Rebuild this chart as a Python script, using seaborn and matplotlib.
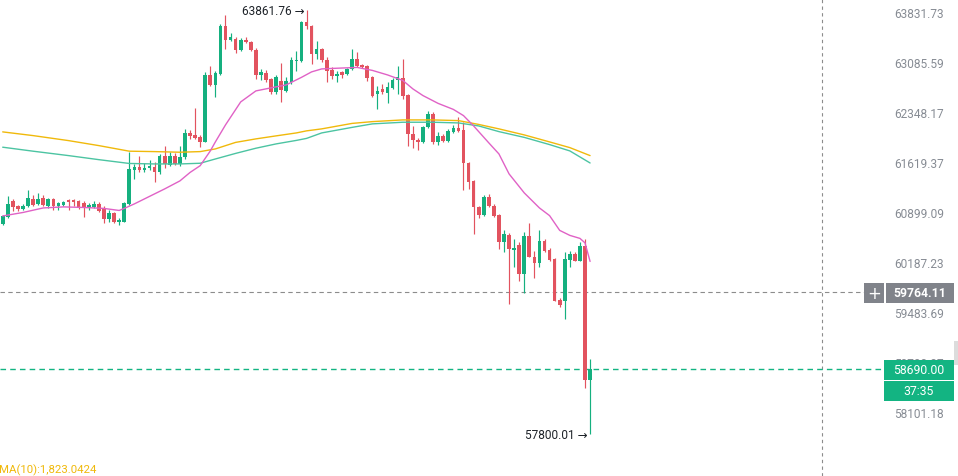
import numpy as np
import pandas as pd
import matplotlib
matplotlib.use("Agg")
import matplotlib.pyplot as plt
import seaborn as sns
from matplotlib.patches import Rectangle
from matplotlib.ticker import FixedLocator, NullLocator

# ---------------- data ----------------
opens = [60732, 60832, 61062, 60990, 60947, 60990, 61091, 61019, 61105, 60990,
         61091, 60990, 61004, 61076, 61076, 61062, 61033, 60961, 60976, 61019,
         60961, 60804, 60889, 60761, 60761, 61019, 61509, 61552, 61509, 61537,
         61552, 61480, 61711, 61581, 61711, 61595, 61697, 62046, 62017, 61988,
         61915, 62898, 62751, 62913, 63627, 63418, 63433, 63269, 63418, 63389,
         63269, 62898, 62928, 62839, 62648, 62810, 62662, 62795, 63105, 63105,
         63687, 63627, 63209, 63284, 63120, 62972, 62884, 62943, 62913, 62987,
         63135, 63046, 63031, 62869, 62618, 62692, 62633, 62707, 62825, 62854,
         62603, 62032, 61944, 61915, 62134, 62323, 61915, 62003, 61930, 62061,
         62119, 62090, 61609, 61350, 60976, 60861, 61120, 60990, 60861, 60476,
         60576, 60362, 60434, 60023, 60562, 60263, 60177, 60490, 60362, 60234,
         59657, 59643, 60220, 60305, 60206, 60419, 58545]
highs = [60861, 61134, 61091, 61004, 61019, 61220, 61148, 61177, 61148, 61105,
         61105, 61048, 61066, 61091, 61091, 61076, 61062, 61033, 61066, 61048,
         60990, 60932, 60903, 60818, 61048, 61770, 61595, 61711, 61609, 61653,
         61624, 61740, 61857, 61770, 61755, 61857, 62105, 62090, 62412, 62017,
         62943, 63031, 62957, 63657, 63791, 63523, 63463, 63448, 63463, 63403,
         63299, 62987, 62972, 62854, 62898, 63075, 62869, 63165, 63254, 63702,
         63861.76, 63642, 63403, 63299, 63165, 63016, 62957, 62957, 63002, 63284,
         63239, 63061, 63046, 62884, 62736, 62766, 62795, 62854, 63031, 63135,
         62618, 62148, 61974, 62148, 62367, 62353, 62061, 62032, 62105, 62163,
         62280, 62207, 61624, 61360, 60990, 61148, 61163, 61019, 60875, 60647,
         60604, 60519, 60476, 60619, 60747, 60348, 60647, 60519, 60391, 60248,
         59685, 60334, 60348, 60334, 60476, 60519, 58834]
lows = [60718, 60818, 60918, 60922, 60932, 60976, 60990, 61004, 60990, 60961,
        60932, 60932, 60990, 60932, 60990, 60947, 60832, 60932, 60961, 60903,
        60747, 60761, 60747, 60718, 60754, 61010, 61379, 61480, 61484, 61509,
        61336, 61451, 61537, 61566, 61581, 61566, 61667, 61959, 61959, 61842,
        61908, 62736, 62574, 62898, 63284, 63403, 63224, 63254, 63374, 63254,
        62839, 62825, 62795, 62618, 62618, 62500, 62648, 62766, 62957, 63090,
        63583, 63061, 63135, 63090, 62795, 62839, 62795, 62854, 62898, 62972,
        63016, 63002, 62810, 62574, 62397, 62618, 62485, 62692, 62618, 62544,
        61857, 61828, 61799, 61901, 62119, 61886, 61872, 61915, 61915, 62046,
        62061, 61220, 61235, 60590, 60818, 60846, 60976, 60832, 60377, 60334,
        59600, 60121, 59924, 59755, 60255, 59966, 60121, 60334, 60206, 59635,
        59558, 59391, 60121, 60200, 60200, 58435, 57800.01]
closes = [60846, 61019, 60976, 60947, 60994, 61105, 61004, 61091, 61004, 61091,
          60990, 61033, 61048, 61048, 61048, 60961, 60961, 61004, 61019, 60918,
          60804, 60889, 60761, 60789, 61033, 61523, 61552, 61509, 61537, 61566,
          61480, 61711, 61595, 61711, 61595, 61697, 62046, 62003, 61974, 61915,
          62898, 62751, 62928, 63627, 63418, 63463, 63269, 63418, 63389, 63269,
          62898, 62943, 62825, 62648, 62869, 62677, 62810, 63120, 63120, 63687,
          63627, 63209, 63284, 63120, 62957, 62884, 62913, 62898, 62987, 63135,
          63031, 63016, 62854, 62589, 62662, 62648, 62721, 62825, 62869, 62589,
          62032, 61944, 61915, 62134, 62323, 61915, 62003, 61930, 62076, 62119,
          62076, 61609, 61336, 60976, 60861, 61120, 60990, 60846, 60476, 60590,
          60377, 60391, 60023, 60562, 60263, 60177, 60490, 60348, 60220, 59643,
          59586, 60234, 60305, 60210, 60419, 58545, 58690.00]

# moving-average lines (candle index -> value)
ma_fast_idx = [0, 4, 8, 12, 16, 20, 23, 24, 26, 28, 30, 32, 35, 37, 39, 41, 42, 44,
               47, 50, 53, 56, 59, 61, 63, 66, 70, 73, 76, 79, 81, 83, 86, 89, 91,
               93, 96, 98, 100, 103, 106, 108, 110, 112, 114, 115, 116]
ma_fast_val = [60846, 60896, 60961, 60976, 60968, 60954, 60925, 60954, 61019, 61091,
               61163, 61235, 61350, 61472, 61570, 61784, 61915, 62163, 62500, 62662,
               62707, 62751, 62862, 62943, 62987, 62997, 63009, 62965, 62898, 62817,
               62692, 62593, 62478, 62390, 62299, 62148, 61901, 61740, 61451, 61177,
               60961, 60851, 60640, 60569, 60526, 60462, 60199]
ma_slow_idx = [0, 6, 13, 19, 25, 30, 35, 39, 42, 46, 50, 54, 58, 60, 63, 69, 73, 79,
               85, 90, 94, 98, 103, 108, 112, 116]
ma_orange_val = [62061, 62007, 61934, 61861, 61780, 61774, 61765, 61774, 61813, 61908,
                 61959, 62003, 62046, 62076, 62105, 62185, 62211, 62236, 62236, 62226,
                 62170, 62105, 62017, 61915, 61832, 61716]
ma_teal_val = [61838, 61780, 61716, 61657, 61602, 61595, 61595, 61605, 61667, 61748,
               61823, 61886, 61937, 61966, 62046, 62127, 62178, 62202, 62202, 62192,
               62148, 62065, 61981, 61876, 61784, 61609]

tick_values = [63831.73, 63085.59, 62348.17, 61619.37, 60899.09, 60187.23,
               59483.69, 58788.37, 58101.18]
tick_labels = ["63831.73", "63085.59", "62348.17", "61619.37", "60899.09",
               "60187.23", "59483.69", "58788.37", "58101.18"]
crosshair_price = 59764.11
crosshair_index = 161.8
last_price = 58690.00
countdown = "37:35"
high_label = "63861.76 \u2192"
low_label = "57800.01 \u2192"
vol_text = "MA(10):1,823.0424"

# ---------------- style ----------------
sns.set_style("white")
plt.rcParams["font.family"] = ["Roboto", "DejaVu Sans"]

GREEN = "#15b07f"
RED = "#e2535f"
PINK = "#e062c6"
ORANGE = "#f0b90b"
TEAL = "#4cc4a2"
GRAY_TXT = "#878c94"

W, H = 958, 477
fig = plt.figure(figsize=(W / 100, H / 100), dpi=100)
ax = fig.add_axes([0, 0, 862 / W, 1])

df = pd.DataFrame({"idx": np.arange(len(opens)), "open": opens, "high": highs,
                   "low": lows, "close": closes})
up = df["close"] >= df["open"]
cols = np.where(up, GREEN, RED)
body_lo = df[["open", "close"]].min(axis=1)
body_h = (df["close"] - df["open"]).abs().clip(lower=12)

ax.set_yscale("log")
ax.vlines(df["idx"], df["low"], df["high"], colors=cols, lw=0.85, zorder=3)
ax.bar(df["idx"], body_h, bottom=body_lo, width=0.72, color=cols,
       linewidth=0, zorder=4)

sns.lineplot(x=ma_slow_idx, y=ma_orange_val, ax=ax, color=ORANGE, lw=1.0, zorder=5)
sns.lineplot(x=ma_slow_idx, y=ma_teal_val, ax=ax, color=TEAL, lw=1.0, zorder=5)
sns.lineplot(x=ma_fast_idx, y=ma_fast_val, ax=ax, color=PINK, lw=1.0, zorder=6)

ax.set_xlim(-0.533, 169.7)
ax.set_ylim(57237, 64031)

# crosshair and last price lines
ax.axvline(crosshair_index, color="#8c8c8c", lw=0.8, ls=(0, (3, 3)), zorder=2)
ax.axhline(crosshair_price, xmin=0, xmax=864 / 862, color="#8c8c8c", lw=0.8,
           ls=(0, (4, 3)), clip_on=False, zorder=2)
ax.axhline(last_price, xmin=0, xmax=884 / 862, color="#13b482", lw=1.0,
           ls=(0, (4, 3)), clip_on=False, zorder=2)

# axis styling
for s in ax.spines.values():
    s.set_visible(False)
ax.xaxis.set_major_locator(NullLocator())
ax.xaxis.set_minor_locator(NullLocator())
ax.yaxis.set_minor_locator(NullLocator())
ax.yaxis.set_major_locator(FixedLocator(tick_values))
ax.set_yticklabels(tick_labels)
ax.yaxis.tick_right()
ax.tick_params(axis="y", length=0, pad=23, labelsize=8.6, labelcolor=GRAY_TXT)
ax.set_xlabel("")
ax.set_ylabel("")
ax.grid(False)

# high / low annotations
ax.annotate(high_label, xy=(60, highs[60]), xytext=(-1.5, 0),
            textcoords="offset points", ha="right", va="center",
            fontsize=8.6, color="#1e2329", zorder=7)
ax.annotate(low_label, xy=(116, lows[116]), xytext=(-1.5, 0),
            textcoords="offset points", ha="right", va="center",
            fontsize=8.6, color="#1e2329", zorder=7)

# volume MA text at bottom-left (partly clipped as in the reference)
fig.text(-1.5 / W, 1 - 470 / H, vol_text, ha="left", va="center",
         fontsize=8.2, color=ORANGE)


def fbox(x0, y0, x1, y1, color):
    fig.patches.append(Rectangle((x0 / W, 1 - y1 / H), (x1 - x0) / W, (y1 - y0) / H,
                                 transform=fig.transFigure, facecolor=color,
                                 edgecolor="none", zorder=10))


# crosshair price label
fbox(864, 284, 884, 304, "#80838a")
fig.text(874 / W, 1 - 294 / H, "+", ha="center", va="center", fontsize=12,
         color="white", zorder=11, family=["DejaVu Sans"])
fbox(886, 284, 954, 304, "#80838a")
fig.text(920 / W, 1 - 294 / H, f"{crosshair_price:.2f}", ha="center", va="center",
         fontsize=8.8, color="white", fontweight="bold", zorder=11)

# last price label + countdown
fbox(884, 361, 954, 380.5, "#13b482")
fig.text(919 / W, 1 - 370.5 / H, f"{last_price:.2f}", ha="center", va="center",
         fontsize=8.8, color="white", zorder=11)
fbox(884, 382, 954, 402, "#13b482")
fig.text(919 / W, 1 - 392 / H, countdown, ha="center", va="center",
         fontsize=8.8, color="white", zorder=11)

# small tab at right edge
fbox(954, 342, 958, 366, "#dcdcdc")

fig.savefig("out.png", dpi=100, facecolor="white")
